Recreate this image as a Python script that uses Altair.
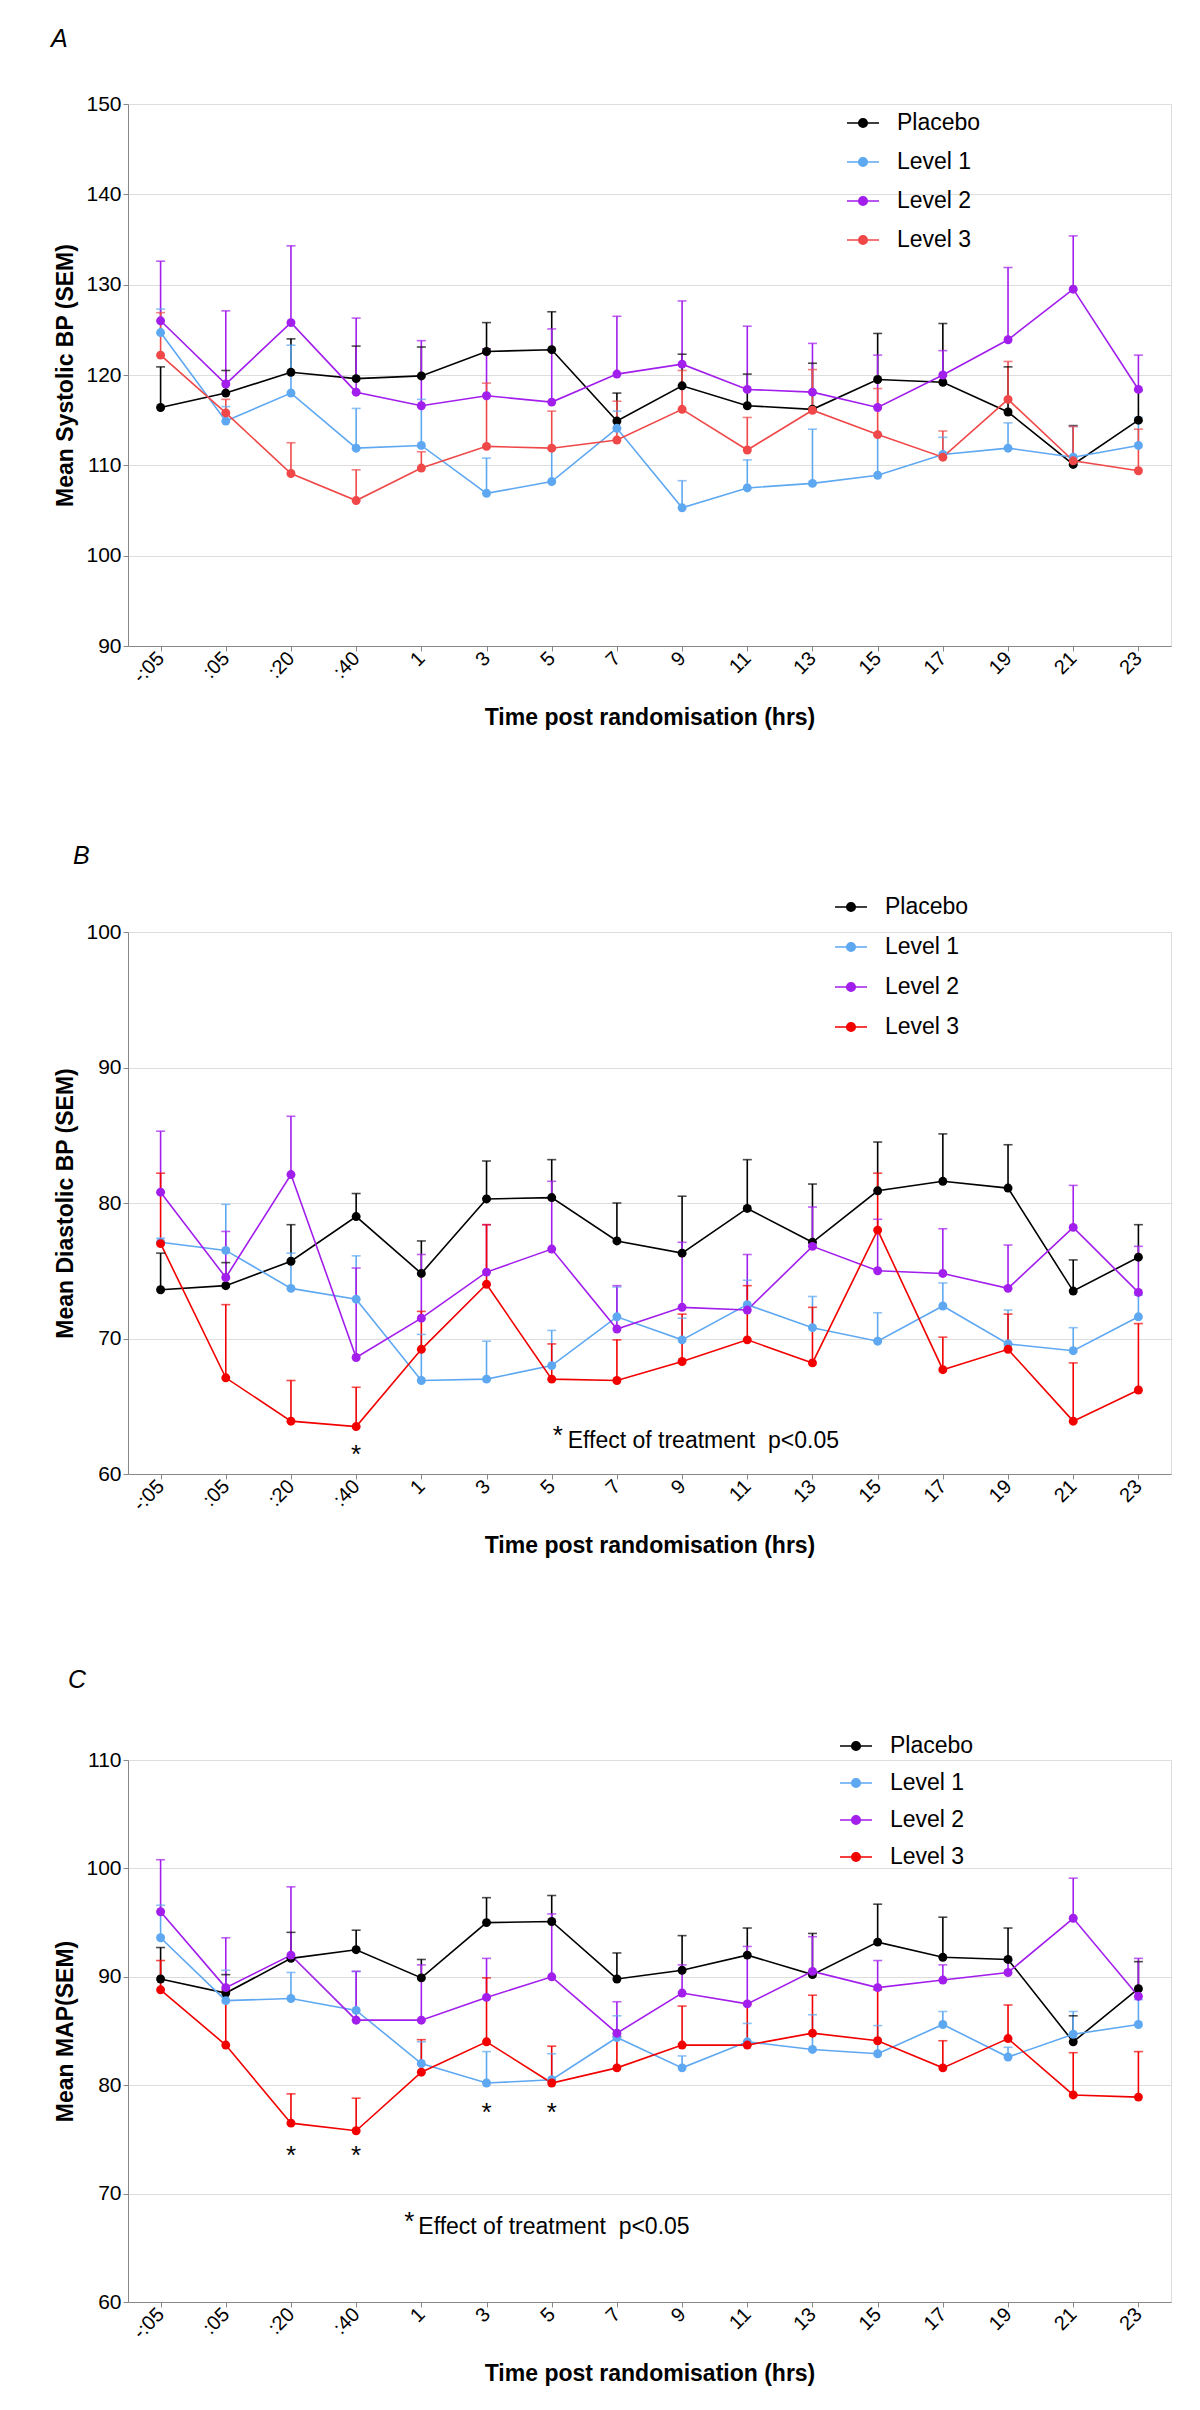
import altair as alt
import pandas as pd

FONT = "Liberation Sans"

times = ["-:05", ":05", ":20", ":40", "1", "3", "5", "7", "9", "11", "13", "15", "17", "19", "21", "23"]
groups = ["Placebo", "Level 1", "Level 2", "Level 3"]
x_title = "Time post randomisation (hrs)"

# ---------------- Panel A: systolic ----------------
a_placebo = [116.4, 118.0, 120.3, 119.6, 119.9, 122.6, 122.8, 114.9, 118.8, 116.6, 116.2, 119.5, 119.2, 115.9, 110.1, 115.0]
a_placebo_up = [120.9, 120.5, 124.0, 123.2, 123.1, 125.8, 127.0, 118.0, 122.3, 120.1, 121.3, 124.6, 125.7, 120.9, 114.4, 118.3]
a_level1 = [124.7, 114.9, 118.0, 111.9, 112.2, 106.9, 108.2, 114.1, 105.3, 107.5, 108.0, 108.9, 111.2, 111.9, 110.9, 112.2]
a_level1_up = [127.3, 116.5, 123.3, 116.3, 117.3, 110.8, 111.8, 116.0, 108.3, 110.6, 114.0, 113.3, 113.1, 114.7, 114.3, 115.3]
a_level2 = [126.0, 119.0, 125.8, 118.1, 116.6, 117.7, 117.0, 120.1, 121.2, 118.4, 118.1, 116.4, 120.0, 123.9, 129.5, 118.4]
a_level2_up = [132.6, 127.1, 134.3, 126.3, 123.8, 122.9, 125.1, 126.5, 128.2, 125.4, 123.5, 122.2, 122.7, 131.9, 135.4, 122.2]
a_level3 = [122.2, 115.8, 109.1, 106.1, 109.7, 112.1, 111.9, 112.8, 116.2, 111.7, 116.1, 113.4, 110.9, 117.3, 110.5, 109.4]
a_level3_up = [126.9, 117.3, 112.5, 109.5, 111.5, 119.1, 116.0, 117.1, 120.5, 115.3, 120.6, 118.5, 113.8, 121.5, 114.3, 114.0]

# ---------------- Panel B: diastolic ----------------
b_placebo = [73.6, 73.9, 75.7, 79.0, 74.8, 80.3, 80.4, 77.2, 76.3, 79.6, 77.1, 80.9, 81.6, 81.1, 73.5, 76.0]
b_placebo_up = [76.3, 75.6, 78.4, 80.7, 77.2, 83.1, 83.2, 80.0, 80.5, 83.2, 81.4, 84.5, 85.1, 84.3, 75.8, 78.4]
b_level1 = [77.1, 76.5, 73.7, 72.9, 66.9, 67.0, 68.0, 71.6, 69.9, 72.5, 70.8, 69.8, 72.4, 69.6, 69.1, 71.6]
b_level1_up = [77.4, 79.9, 76.3, 76.1, 70.3, 69.8, 70.6, 73.8, 71.5, 74.3, 73.1, 71.9, 74.1, 72.1, 70.8, 73.2]
b_level2 = [80.8, 74.5, 82.1, 68.6, 71.5, 74.9, 76.6, 70.7, 72.3, 72.1, 76.8, 75.0, 74.8, 73.7, 78.2, 73.4]
b_level2_up = [85.3, 77.9, 86.4, 75.2, 76.2, 78.4, 81.6, 73.9, 77.1, 76.2, 79.7, 78.8, 78.1, 76.9, 81.3, 76.8]
b_level3 = [77.0, 67.1, 63.9, 63.5, 69.2, 74.0, 67.0, 66.9, 68.3, 69.9, 68.2, 78.0, 67.7, 69.2, 63.9, 66.2]
b_level3_up = [82.2, 72.5, 66.9, 66.4, 72.0, 78.4, 69.6, 69.9, 71.8, 73.9, 72.3, 82.2, 70.1, 71.8, 68.2, 71.1]

# ---------------- Panel C: MAP ----------------
c_placebo = [89.8, 88.5, 91.7, 92.5, 89.9, 95.0, 95.1, 89.8, 90.6, 92.0, 90.2, 93.2, 91.8, 91.6, 84.0, 88.9]
c_placebo_up = [92.7, 90.2, 94.1, 94.3, 91.6, 97.3, 97.5, 92.2, 93.8, 94.5, 94.0, 96.7, 95.5, 94.5, 86.4, 91.4]
c_level1 = [93.6, 87.8, 88.0, 86.9, 82.0, 80.2, 80.5, 84.4, 81.6, 84.0, 83.3, 82.9, 85.6, 82.6, 84.7, 85.6]
c_level1_up = [96.6, 90.6, 90.4, 90.5, 84.0, 83.1, 82.9, 86.4, 82.7, 85.7, 86.5, 85.5, 86.8, 83.5, 86.8, 87.9]
c_level2 = [96.0, 89.0, 92.0, 86.0, 86.0, 88.1, 90.0, 84.8, 88.5, 87.5, 90.5, 89.0, 89.7, 90.4, 95.4, 88.2]
c_level2_up = [100.8, 93.6, 98.3, 90.5, 91.1, 91.7, 95.8, 87.7, 91.1, 92.8, 93.7, 91.5, 91.1, 91.5, 99.1, 91.7]
c_level3 = [88.8, 83.7, 76.5, 75.8, 81.2, 84.0, 80.2, 81.6, 83.7, 83.7, 84.8, 84.1, 81.6, 84.3, 79.1, 78.9]
c_level3_up = [91.5, 88.8, 79.2, 78.8, 84.2, 89.9, 83.6, 84.5, 87.3, 87.5, 88.3, 88.8, 84.1, 87.4, 83.0, 83.1]

# significance markers (time, value at star centre)
b_star_times = [":40"]
b_star_vals = [61.9]
c_star_times = [":20", ":40", "3", "5"]
c_star_vals = [74.1, 74.1, 78.1, 78.1]

# "Effect of treatment" note anchors (time, star value, text baseline value)
b_note = {"time": "5", "star": 63.3, "text": 61.9}
c_note = {"time": "1", "star": 68.0, "text": 66.3}
note_text = "Effect of treatment\u00a0\u00a0p<0.05"

colors_a = ["#000000", "#5EA8F2", "#A21EEC", "#F04848"]
colors_bc = ["#000000", "#5EA8F2", "#A21EEC", "#F20000"]

# legend symbol: short line with a (stroke-filled) dot in the middle
LEGEND_PATH = (
    "M-1,0H1"
    "M-0.27,0A0.27,0.27,0,1,1,0.27,0A0.27,0.27,0,1,1,-0.27,0"
    "M-0.18,0A0.18,0.18,0,1,1,0.18,0A0.18,0.18,0,1,1,-0.18,0"
    "M-0.09,0A0.09,0.09,0,1,1,0.09,0A0.09,0.09,0,1,1,-0.09,0"
    "M-0.03,0A0.03,0.03,0,1,1,0.03,0A0.03,0.03,0,1,1,-0.03,0"
)


def frame(series, uppers):
    rows = []
    for g, m, u in zip(groups, series, uppers):
        for i, (t, mv, uv) in enumerate(zip(times, m, u)):
            rows.append({"time": t, "ti": i, "group": g, "mean": mv, "upper": uv})
    return pd.DataFrame(rows)


def panel(df, ydom, ytitle, label, colors, leg_x, leg_y, leg_rowpad,
          title_dx, title_offset, stars=None, note=None):
    yscale = alt.Scale(domain=ydom, nice=False, zero=False)
    yaxis = alt.Axis(
        title=ytitle, values=list(range(ydom[0], ydom[1] + 1, 10)),
        labelFontSize=21, titleFontSize=23, labelPadding=2, titlePadding=8,
    )
    xaxis = alt.Axis(
        title=x_title, labelAngle=-45, labelAlign="right", labelBaseline="middle",
        labelFontSize=20, titleFontSize=23, labelPadding=4, titlePadding=20,
    )
    X = alt.X("time:N", sort=times, scale=alt.Scale(type="point", padding=0.5), axis=xaxis)
    Ymean = alt.Y("mean:Q", scale=yscale, axis=yaxis)
    cscale = alt.Scale(domain=groups, range=colors)
    C0 = alt.Color("group:N", scale=cscale, legend=None)

    leg = alt.Legend(
        orient="none", legendX=leg_x, legendY=leg_y, title=None,
        labelFont=FONT, labelFontSize=23, labelColor="black", labelOffset=17,
        symbolType=LEGEND_PATH, symbolSize=1024, symbolStrokeWidth=1.5,
        symbolFillColor="transparent", symbolOpacity=1, rowPadding=leg_rowpad, padding=0,
    )
    CL = alt.Color("group:N", scale=cscale, legend=leg)

    base = alt.Chart(df)
    rules = base.mark_rule(strokeWidth=1.6).encode(x=X, y=Ymean, y2="upper:Q", color=C0)
    caps = base.mark_tick(thickness=1.6, size=9).encode(
        x=X, y=alt.Y("upper:Q", scale=yscale, axis=yaxis), color=C0)
    lines = base.mark_line(strokeWidth=1.6).encode(
        x=X, y=Ymean, color=CL, order=alt.Order("ti:Q"))
    pts = base.mark_point(filled=True, size=80, opacity=1).encode(
        x=X, y=Ymean, color=C0)
    layers = [lines, rules, caps, pts]

    if stars is not None:
        sdf = pd.DataFrame({"time": stars[0], "mean": stars[1], "s": ["*"] * len(stars[0])})
        layers.append(
            alt.Chart(sdf).mark_text(font=FONT, fontSize=26, baseline="middle", align="center",
                                     dy=7, color="black")
            .encode(x=X, y=Ymean, text="s:N")
        )
    if note is not None:
        ndf = pd.DataFrame({"time": [note["time"]], "mean": [note["star"]], "s": ["*"]})
        layers.append(
            alt.Chart(ndf).mark_text(font=FONT, fontSize=26, baseline="middle", align="center",
                                     dx=note["star_dx"], dy=7, color="black")
            .encode(x=X, y=Ymean, text="s:N")
        )
        tdf = pd.DataFrame({"time": [note["time"]], "mean": [note["text"]], "s": [note_text]})
        layers.append(
            alt.Chart(tdf).mark_text(font=FONT, fontSize=23, baseline="alphabetic", align="left",
                                     dx=note["text_dx"], color="black")
            .encode(x=X, y=Ymean, text="s:N")
        )

    return alt.layer(*layers).properties(
        width=1043, height=542,
        title=alt.TitleParams(
            label, anchor="start", frame="group", fontStyle="italic", fontWeight="normal",
            fontSize=25, font=FONT, color="black", dx=title_dx, offset=title_offset,
        ),
    )


dfa = frame([a_placebo, a_level1, a_level2, a_level3],
            [a_placebo_up, a_level1_up, a_level2_up, a_level3_up])
dfb = frame([b_placebo, b_level1, b_level2, b_level3],
            [b_placebo_up, b_level1_up, b_level2_up, b_level3_up])
dfc = frame([c_placebo, c_level1, c_level2, c_level3],
            [c_placebo_up, c_level1_up, c_level2_up, c_level3_up])

b_note_full = dict(b_note, star_dx=6, text_dx=16)
c_note_full = dict(c_note, star_dx=-12, text_dx=-3)

pa = panel(dfa, [90, 150], "Mean Systolic BP (SEM)", "A", colors_a,
           718, 2, 10, -77, 41)
pb = panel(dfb, [60, 100], "Mean Diastolic BP (SEM)", "B", colors_bc,
           706, -42, 11, -55, 21, stars=(b_star_times, b_star_vals), note=b_note_full)
pc = panel(dfc, [60, 110], "Mean MAP(SEM)", "C", colors_bc,
           711, -31, 8, -60, 36, stars=(c_star_times, c_star_vals), note=c_note_full)

chart = alt.vconcat(pa, pb, pc, spacing=286, bounds="flush").resolve_scale(
    color="independent"
).resolve_legend(color="independent").properties(
    padding={"left": 42, "top": 18, "right": 5, "bottom": 5}
).configure_view(stroke=None).configure_axis(
    grid=False, domainColor="black", domainWidth=3, tickColor="black", tickWidth=2.5,
    tickSize=9, labelFont=FONT, labelFontWeight="bold", labelColor="black",
    titleFont=FONT, titleFontWeight="bold", titleColor="black",
).configure(background="white")

chart.save("out.html", embed_options={"renderer": "svg", "actions": False})
